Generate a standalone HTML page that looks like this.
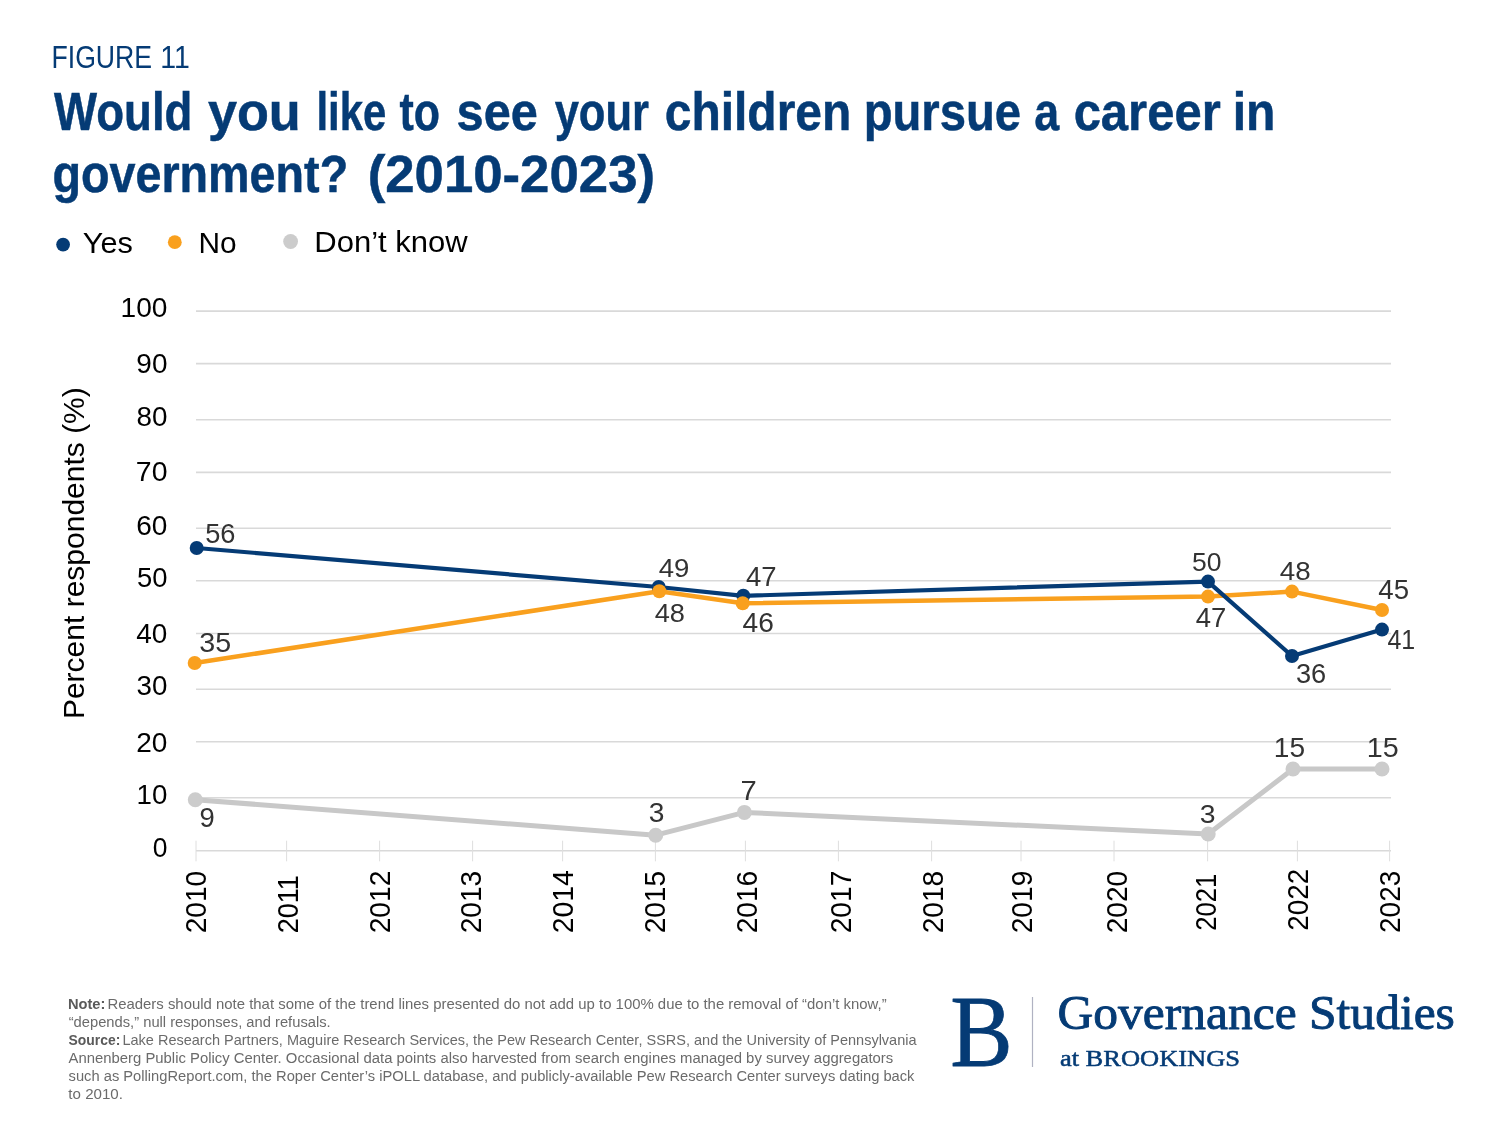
<!DOCTYPE html>
<html lang="en"><head><meta charset="utf-8"><title>Figure 11</title>
<style>html,body{margin:0;padding:0;background:#fff}svg{display:block}text{white-space:pre}</style></head>
<body>
<svg width="1500" height="1125" viewBox="0 0 1500 1125">
<rect width="1500" height="1125" fill="#ffffff"/>
<text y="67.60" font-family='"Liberation Sans", sans-serif' font-weight="400" font-size="30.81" fill="#053b75"><tspan x="51.47" textLength="100.65" lengthAdjust="spacingAndGlyphs">FIGURE</tspan> <tspan x="160.23" textLength="29.59" lengthAdjust="spacingAndGlyphs">11</tspan></text>
<text y="130.20" font-family='"Liberation Sans", sans-serif' font-weight="700" font-size="52.76" fill="#053b75" stroke="#053b75" stroke-width="0.5"><tspan x="54.00" textLength="138.41" lengthAdjust="spacingAndGlyphs">Would</tspan> <tspan x="207.88" textLength="92.86" lengthAdjust="spacingAndGlyphs">you</tspan> <tspan x="316.45" textLength="69.89" lengthAdjust="spacingAndGlyphs">like</tspan> <tspan x="399.48" textLength="40.53" lengthAdjust="spacingAndGlyphs">to</tspan> <tspan x="456.55" textLength="81.34" lengthAdjust="spacingAndGlyphs">see</tspan> <tspan x="554.65" textLength="94.30" lengthAdjust="spacingAndGlyphs">your</tspan> <tspan x="664.78" textLength="186.47" lengthAdjust="spacingAndGlyphs">children</tspan> <tspan x="863.68" textLength="157.43" lengthAdjust="spacingAndGlyphs">pursue</tspan> <tspan x="1034.35" textLength="24.90" lengthAdjust="spacingAndGlyphs">a</tspan> <tspan x="1073.64" textLength="147.09" lengthAdjust="spacingAndGlyphs">career</tspan> <tspan x="1232.73" textLength="42.79" lengthAdjust="spacingAndGlyphs">in</tspan></text>
<text y="191.60" font-family='"Liberation Sans", sans-serif' font-weight="700" font-size="52.14" fill="#053b75" stroke="#053b75" stroke-width="0.5"><tspan x="52.43" textLength="295.78" lengthAdjust="spacingAndGlyphs">government?</tspan> <tspan x="367.67" textLength="287.38" lengthAdjust="spacingAndGlyphs">(2010-2023)</tspan></text>
<circle cx="63.1" cy="244.6" r="6.9" fill="#053b75"/>
<circle cx="174.8" cy="242.2" r="6.9" fill="#f9a01e"/>
<circle cx="290.6" cy="241.5" r="7.4" fill="#cccccc"/>
<text transform="translate(82.76,253.00) scale(1.0730,1)" font-family='"Liberation Sans", sans-serif' font-weight="400" font-size="28.63" fill="#000">Yes</text>
<text transform="translate(198.41,253.00) scale(1.0417,1)" font-family='"Liberation Sans", sans-serif' font-weight="400" font-size="28.63" fill="#000">No</text>
<text transform="translate(314.27,251.50) scale(1.0837,1)" font-family='"Liberation Sans", sans-serif' font-weight="400" font-size="28.63" fill="#000">Don’t know</text>
<line x1="196" x2="1391" y1="311.1" y2="311.1" stroke="#d9d9d9" stroke-width="1.6"/>
<line x1="196" x2="1391" y1="363.6" y2="363.6" stroke="#d9d9d9" stroke-width="1.6"/>
<line x1="196" x2="1391" y1="419.7" y2="419.7" stroke="#d9d9d9" stroke-width="1.6"/>
<line x1="196" x2="1391" y1="472.4" y2="472.4" stroke="#d9d9d9" stroke-width="1.6"/>
<line x1="196" x2="1391" y1="528.3" y2="528.3" stroke="#d9d9d9" stroke-width="1.6"/>
<line x1="196" x2="1391" y1="580.8" y2="580.8" stroke="#d9d9d9" stroke-width="1.6"/>
<line x1="196" x2="1391" y1="633.5" y2="633.5" stroke="#d9d9d9" stroke-width="1.6"/>
<line x1="196" x2="1391" y1="689.3" y2="689.3" stroke="#d9d9d9" stroke-width="1.6"/>
<line x1="196" x2="1391" y1="741.8" y2="741.8" stroke="#d9d9d9" stroke-width="1.6"/>
<line x1="196" x2="1391" y1="797.8" y2="797.8" stroke="#d9d9d9" stroke-width="1.6"/>
<line x1="196" x2="1391" y1="850.8" y2="850.8" stroke="#d9d9d9" stroke-width="1.6"/>
<line x1="196" x2="196" y1="840.7" y2="861.3" stroke="#dedede" stroke-width="1"/>
<line x1="286.6" x2="286.6" y1="840.7" y2="861.3" stroke="#dedede" stroke-width="1"/>
<line x1="379.6" x2="379.6" y1="840.7" y2="861.3" stroke="#dedede" stroke-width="1"/>
<line x1="472.6" x2="472.6" y1="840.7" y2="861.3" stroke="#dedede" stroke-width="1"/>
<line x1="562.6" x2="562.6" y1="840.7" y2="861.3" stroke="#dedede" stroke-width="1"/>
<line x1="655.4" x2="655.4" y1="840.7" y2="861.3" stroke="#dedede" stroke-width="1"/>
<line x1="745.4" x2="745.4" y1="840.7" y2="861.3" stroke="#dedede" stroke-width="1"/>
<line x1="838.4" x2="838.4" y1="840.7" y2="861.3" stroke="#dedede" stroke-width="1"/>
<line x1="931.6" x2="931.6" y1="840.7" y2="861.3" stroke="#dedede" stroke-width="1"/>
<line x1="1021" x2="1021" y1="840.7" y2="861.3" stroke="#dedede" stroke-width="1"/>
<line x1="1114" x2="1114" y1="840.7" y2="861.3" stroke="#dedede" stroke-width="1"/>
<line x1="1207.6" x2="1207.6" y1="840.7" y2="861.3" stroke="#dedede" stroke-width="1"/>
<line x1="1297.4" x2="1297.4" y1="840.7" y2="861.3" stroke="#dedede" stroke-width="1"/>
<line x1="1389.6" x2="1389.6" y1="840.7" y2="861.3" stroke="#dedede" stroke-width="1"/>
<text transform="translate(120.56,317.40) scale(1.0296,1)" font-family='"Liberation Sans", sans-serif' font-weight="400" font-size="27.29" fill="#000">100</text>
<text transform="translate(136.36,373.30) scale(0.9975,1)" font-family='"Liberation Sans", sans-serif' font-weight="400" font-size="28.00" fill="#000">90</text>
<text transform="translate(136.48,425.70) scale(1.0039,1)" font-family='"Liberation Sans", sans-serif' font-weight="400" font-size="27.71" fill="#000">80</text>
<text transform="translate(135.82,481.40) scale(1.0259,1)" font-family='"Liberation Sans", sans-serif' font-weight="400" font-size="27.71" fill="#000">70</text>
<text transform="translate(136.24,534.70) scale(0.9963,1)" font-family='"Liberation Sans", sans-serif' font-weight="400" font-size="28.14" fill="#000">60</text>
<text transform="translate(136.90,587.00) scale(0.9844,1)" font-family='"Liberation Sans", sans-serif' font-weight="400" font-size="27.86" fill="#000">50</text>
<text transform="translate(136.33,642.70) scale(1.0088,1)" font-family='"Liberation Sans", sans-serif' font-weight="400" font-size="27.71" fill="#000">40</text>
<text transform="translate(136.59,695.40) scale(1.0000,1)" font-family='"Liberation Sans", sans-serif' font-weight="400" font-size="27.71" fill="#000">30</text>
<text transform="translate(136.25,751.70) scale(1.0113,1)" font-family='"Liberation Sans", sans-serif' font-weight="400" font-size="27.71" fill="#000">20</text>
<text transform="translate(136.59,804.40) scale(0.9999,1)" font-family='"Liberation Sans", sans-serif' font-weight="400" font-size="27.71" fill="#000">10</text>
<text transform="translate(152.64,856.70) scale(0.9551,1)" font-family='"Liberation Sans", sans-serif' font-weight="400" font-size="27.71" fill="#000">0</text>
<text transform="translate(84.30,719.10) rotate(-90) scale(1.0174,1)" font-family='"Liberation Sans", sans-serif' font-weight="400" font-size="29.51" fill="#000">Percent respondents (%)</text>
<text transform="translate(206.10,933.35) rotate(-90) scale(0.9319,1)" font-family='"Liberation Sans", sans-serif' font-weight="400" font-size="30.14" fill="#000">2010</text>
<text transform="translate(297.70,933.30) rotate(-90) scale(0.9325,1)" font-family='"Liberation Sans", sans-serif' font-weight="400" font-size="29.00" fill="#000">2011</text>
<text transform="translate(389.70,933.35) rotate(-90) scale(0.9535,1)" font-family='"Liberation Sans", sans-serif' font-weight="400" font-size="29.57" fill="#000">2012</text>
<text transform="translate(481.30,933.35) rotate(-90) scale(0.9517,1)" font-family='"Liberation Sans", sans-serif' font-weight="400" font-size="29.57" fill="#000">2013</text>
<text transform="translate(572.70,933.36) rotate(-90) scale(0.9890,1)" font-family='"Liberation Sans", sans-serif' font-weight="400" font-size="28.71" fill="#000">2014</text>
<text transform="translate(665.30,933.35) rotate(-90) scale(0.9408,1)" font-family='"Liberation Sans", sans-serif' font-weight="400" font-size="29.86" fill="#000">2015</text>
<text transform="translate(756.70,933.35) rotate(-90) scale(0.9517,1)" font-family='"Liberation Sans", sans-serif' font-weight="400" font-size="29.57" fill="#000">2016</text>
<text transform="translate(851.30,933.35) rotate(-90) scale(0.9723,1)" font-family='"Liberation Sans", sans-serif' font-weight="400" font-size="29.00" fill="#000">2017</text>
<text transform="translate(943.30,933.35) rotate(-90) scale(0.9426,1)" font-family='"Liberation Sans", sans-serif' font-weight="400" font-size="29.86" fill="#000">2018</text>
<text transform="translate(1032.10,933.35) rotate(-90) scale(0.9535,1)" font-family='"Liberation Sans", sans-serif' font-weight="400" font-size="29.57" fill="#000">2019</text>
<text transform="translate(1127.30,933.35) rotate(-90) scale(0.9686,1)" font-family='"Liberation Sans", sans-serif' font-weight="400" font-size="29.00" fill="#000">2020</text>
<text transform="translate(1215.70,930.63) rotate(-90) scale(0.8815,1)" font-family='"Liberation Sans", sans-serif' font-weight="400" font-size="29.00" fill="#000">2021</text>
<text transform="translate(1308.30,930.74) rotate(-90) scale(0.9349,1)" font-family='"Liberation Sans", sans-serif' font-weight="400" font-size="29.86" fill="#000">2022</text>
<text transform="translate(1399.70,932.94) rotate(-90) scale(0.9453,1)" font-family='"Liberation Sans", sans-serif' font-weight="400" font-size="29.57" fill="#000">2023</text>
<path d="M195.3,799.7 L655.7,835.2 L744.4,812.4 L1208.2,834 L1293,769 L1382,769" fill="none" stroke="#c8c8c8" stroke-width="5" stroke-linejoin="round" stroke-linecap="round"/>
<path d="M194.7,663 L659.3,591.3 L742.7,603.3 L1208,596.6 L1292,591.6 L1382,610" fill="none" stroke="#f9a01e" stroke-width="4.5" stroke-linejoin="round" stroke-linecap="round"/>
<path d="M196.7,548 L658.7,587 L743.3,595.8 L1208,581.6 L1292,656 L1382,629.6" fill="none" stroke="#053b75" stroke-width="4.2" stroke-linejoin="round" stroke-linecap="round"/>
<circle cx="195.3" cy="799.7" r="7.5" fill="#cccccc"/>
<circle cx="655.7" cy="835.2" r="7.5" fill="#cccccc"/>
<circle cx="744.4" cy="812.4" r="7.5" fill="#cccccc"/>
<circle cx="1208.2" cy="834" r="7.5" fill="#cccccc"/>
<circle cx="1293" cy="769" r="7.5" fill="#cccccc"/>
<circle cx="1382" cy="769" r="7.5" fill="#cccccc"/>
<circle cx="196.7" cy="548" r="7" fill="#053b75"/>
<circle cx="658.7" cy="587" r="7" fill="#053b75"/>
<circle cx="743.3" cy="595.8" r="7" fill="#053b75"/>
<circle cx="1208" cy="581.6" r="7" fill="#053b75"/>
<circle cx="1292" cy="656" r="7" fill="#053b75"/>
<circle cx="1382" cy="629.6" r="7" fill="#053b75"/>
<circle cx="194.7" cy="663" r="7" fill="#f9a01e"/>
<circle cx="659.3" cy="591.3" r="7" fill="#f9a01e"/>
<circle cx="742.7" cy="603.3" r="7" fill="#f9a01e"/>
<circle cx="1208" cy="596.6" r="7" fill="#f9a01e"/>
<circle cx="1292" cy="591.6" r="7" fill="#f9a01e"/>
<circle cx="1382" cy="610" r="7" fill="#f9a01e"/>
<text transform="translate(205.21,543.00) scale(1.0196,1)" font-family='"Liberation Sans", sans-serif' font-weight="400" font-size="26.71" fill="#333333">56</text>
<text transform="translate(199.25,651.70) scale(1.0192,1)" font-family='"Liberation Sans", sans-serif' font-weight="400" font-size="28.14" fill="#333333">35</text>
<text transform="translate(199.39,827.40) scale(0.9883,1)" font-family='"Liberation Sans", sans-serif' font-weight="400" font-size="27.71" fill="#333333">9</text>
<text transform="translate(658.64,577.00) scale(1.0556,1)" font-family='"Liberation Sans", sans-serif' font-weight="400" font-size="26.14" fill="#333333">49</text>
<text transform="translate(654.65,622.10) scale(1.0349,1)" font-family='"Liberation Sans", sans-serif' font-weight="400" font-size="26.29" fill="#333333">48</text>
<text transform="translate(746.04,586.40) scale(1.0283,1)" font-family='"Liberation Sans", sans-serif' font-weight="400" font-size="26.74" fill="#333333">47</text>
<text transform="translate(742.62,631.70) scale(1.0375,1)" font-family='"Liberation Sans", sans-serif' font-weight="400" font-size="27.14" fill="#333333">46</text>
<text transform="translate(648.87,822.00) scale(1.0381,1)" font-family='"Liberation Sans", sans-serif' font-weight="400" font-size="27.14" fill="#333333">3</text>
<text transform="translate(740.48,800.40) scale(1.0506,1)" font-family='"Liberation Sans", sans-serif' font-weight="400" font-size="27.76" fill="#333333">7</text>
<text transform="translate(1191.94,571.10) scale(0.9939,1)" font-family='"Liberation Sans", sans-serif' font-weight="400" font-size="26.71" fill="#333333">50</text>
<text transform="translate(1195.74,627.10) scale(1.0227,1)" font-family='"Liberation Sans", sans-serif' font-weight="400" font-size="26.89" fill="#333333">47</text>
<text transform="translate(1279.73,580.10) scale(1.0511,1)" font-family='"Liberation Sans", sans-serif' font-weight="400" font-size="26.43" fill="#333333">48</text>
<text transform="translate(1295.91,682.70) scale(0.9982,1)" font-family='"Liberation Sans", sans-serif' font-weight="400" font-size="27.29" fill="#333333">36</text>
<text transform="translate(1378.34,599.10) scale(0.9968,1)" font-family='"Liberation Sans", sans-serif' font-weight="400" font-size="27.76" fill="#333333">45</text>
<text transform="translate(1387.40,648.70) scale(0.9198,1)" font-family='"Liberation Sans", sans-serif' font-weight="400" font-size="27.18" fill="#333333">41</text>
<text transform="translate(1199.86,822.70) scale(1.0627,1)" font-family='"Liberation Sans", sans-serif' font-weight="400" font-size="26.71" fill="#333333">3</text>
<text transform="translate(1273.86,757.10) scale(1.0126,1)" font-family='"Liberation Sans", sans-serif' font-weight="400" font-size="27.76" fill="#333333">15</text>
<text transform="translate(1366.82,757.10) scale(1.0343,1)" font-family='"Liberation Sans", sans-serif' font-weight="400" font-size="27.76" fill="#333333">15</text>
<text transform="translate(67.90,1008.80) scale(0.9802,1)" font-family='"Liberation Sans", sans-serif' font-weight="700" font-size="14.97" fill="#5a5a5a">Note:</text>
<text transform="translate(107.41,1008.80) scale(0.9966,1)" font-family='"Liberation Sans", sans-serif' font-weight="400" font-size="14.97" fill="#6b6b6b">Readers should note that some of the trend lines presented do not add up to 100% due to the removal of “don’t know,”</text>
<text transform="translate(68.67,1027.10) scale(0.9849,1)" font-family='"Liberation Sans", sans-serif' font-weight="400" font-size="14.97" fill="#6b6b6b">“depends,” null responses, and refusals.</text>
<text transform="translate(68.51,1045.10) scale(0.9296,1)" font-family='"Liberation Sans", sans-serif' font-weight="700" font-size="14.97" fill="#5a5a5a">Source:</text>
<text transform="translate(122.44,1045.10) scale(0.9695,1)" font-family='"Liberation Sans", sans-serif' font-weight="400" font-size="14.97" fill="#6b6b6b">Lake Research Partners, Maguire Research Services, the Pew Research Center, SSRS, and the University of Pennsylvania</text>
<text transform="translate(68.54,1062.60) scale(0.9945,1)" font-family='"Liberation Sans", sans-serif' font-weight="400" font-size="14.97" fill="#6b6b6b">Annenberg Public Policy Center. Occasional data points also harvested from search engines managed by survey aggregators</text>
<text transform="translate(68.59,1080.50) scale(0.9821,1)" font-family='"Liberation Sans", sans-serif' font-weight="400" font-size="14.97" fill="#6b6b6b">such as PollingReport.com, the Roper Center’s iPOLL database, and publicly-available Pew Research Center surveys dating back</text>
<text transform="translate(68.36,1098.50) scale(1.0092,1)" font-family='"Liberation Sans", sans-serif' font-weight="400" font-size="14.97" fill="#6b6b6b">to 2010.</text>
<text transform="translate(950.18,1065.60) scale(0.9135,1)" font-family='"Liberation Serif", serif' font-weight="400" font-size="102.44" fill="#053b75" stroke="#053b75" stroke-width="0.8" stroke-linejoin="round">B</text>
<line x1="1032.5" x2="1032.5" y1="997" y2="1067" stroke="#b0b2c2" stroke-width="1.2"/>
<text transform="translate(1057.47,1029.35) scale(1.0183,1)" font-family='"Liberation Serif", serif' font-weight="400" font-size="48.64" fill="#053b75" stroke="#053b75" stroke-width="0.9" stroke-linejoin="round">Governance Studies</text>
<text transform="translate(1059.90,1065.75) scale(1.1985,1)" font-family='"Liberation Serif", serif' font-weight="400" font-size="22.10" fill="#053b75" stroke="#053b75" stroke-width="0.5" stroke-linejoin="round">at BROOKINGS</text>
</svg>
</body></html>
